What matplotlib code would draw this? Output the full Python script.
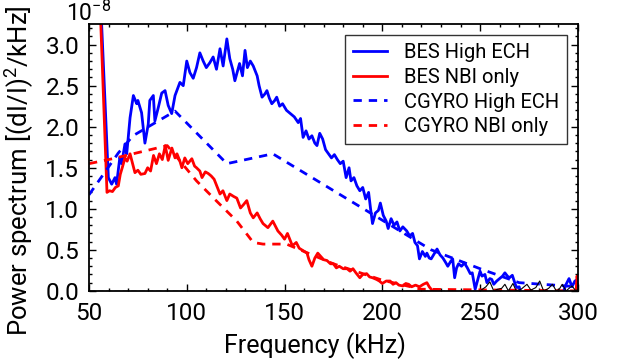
import numpy as np
import matplotlib
matplotlib.use('Agg')
import matplotlib.pyplot as plt
from matplotlib.ticker import MultipleLocator

plt.rcParams['font.family'] = ['Roboto', 'DejaVu Sans']
plt.rcParams['mathtext.fontset'] = 'custom'
plt.rcParams['mathtext.rm'] = 'Roboto'
plt.rcParams['mathtext.default'] = 'regular'

# BES High ECH (units of 1e-8)
bes_ech_f = [56.0, 59.9, 61.6, 63.3, 64.1, 65.8, 66.7, 68.4, 69.3, 71.0, 72.7, 74.4, 75.0, 76.9,
             78.6, 80.3, 81.1, 82.9, 83.7, 85.4, 87.2, 88.9, 90.5, 92.3, 94.0, 96.5, 98.2, 100.0,
             101.6, 103.3, 105.0, 106.7, 108.4, 110.0, 111.8, 113.5, 115.2, 117.0, 118.6, 120.5,
             122.0, 123.5, 124.6, 126.0, 127.0, 128.5, 129.8, 131.0, 132.5, 134.0, 136.0, 137.0,
             138.5, 140.0, 141.0, 142.2, 143.5, 145.0, 146.0, 147.5, 149.0, 151.0, 153.0, 155.0,
             157.0, 158.2, 159.5, 161.0, 162.5, 164.0, 165.5, 166.6, 168.0, 169.5, 171.0, 172.5,
             174.0, 175.5, 177.0, 178.5, 180.0, 181.5, 183.0, 184.0, 185.5, 187.0, 188.5, 190.0,
             191.5, 193.0, 194.0, 195.0, 196.5, 198.0, 199.0, 200.5, 202.0, 203.0, 204.5, 206.0,
             207.5, 209.0, 210.5, 212.5, 214.0, 215.5, 216.7, 218.0, 219.0, 220.5, 222.0, 222.8,
             224.0, 225.0, 226.5, 228.0, 229.5, 231.0, 232.3, 233.5, 235.0, 236.0, 237.0, 238.0,
             239.0, 240.5, 242.0, 243.5, 245.0, 246.0, 247.5, 249.0, 250.0, 251.0, 252.5, 253.5,
             255.0, 256.0, 257.0, 258.5, 260.0, 261.5, 262.7, 264.0, 265.0, 266.5, 268.0, 268.8,
             270.0, 271.0, 292.0, 294.0, 295.5, 297.0, 298.5, 300.0]
bes_ech_v = [3.5, 1.38, 1.30, 1.38, 1.30, 1.63, 1.55, 1.79, 1.67, 2.11, 2.38, 2.28, 2.32, 2.17,
             1.80, 2.03, 2.32, 2.38, 2.07, 2.23, 2.41, 2.44, 2.26, 2.16, 2.38, 2.54, 2.50, 2.80,
             2.66, 2.59, 2.72, 2.90, 2.80, 2.72, 2.78, 2.85, 2.70, 2.95, 2.74, 3.07,
             2.83, 2.70, 2.56, 2.68, 2.77, 2.62, 2.93, 2.72, 2.80, 2.74, 2.62, 2.50,
             2.36, 2.40, 2.44, 2.35, 2.28, 2.32, 2.36, 2.25, 2.28, 2.20, 2.16, 2.12,
             2.05, 2.10, 1.87, 1.95, 1.85, 1.89, 1.80, 1.77, 1.92, 1.85, 1.72, 1.67,
             1.62, 1.66, 1.60, 1.55, 1.58, 1.38, 1.50, 1.34, 1.38, 1.28, 1.22, 1.26,
             1.12, 1.20, 1.00, 0.82, 0.95, 0.98, 1.07, 0.92, 0.85, 0.76, 0.88, 0.80,
             0.84, 0.73, 0.78, 0.73, 0.67, 0.70, 0.59, 0.55, 0.39, 0.48, 0.42, 0.46,
             0.40, 0.39, 0.45, 0.51, 0.44, 0.40, 0.35, 0.30, 0.36, 0.39, 0.16, 0.28,
             0.33, 0.30, 0.34, 0.28, 0.21, 0.22, 0.02, 0.15, 0.24, 0.18, 0.20, 0.10,
             0.15, 0.14, 0.08, 0.12, 0.15, 0.18, 0.22, 0.18, 0.16, 0.19, 0.08, 0.04,
             0.05, -0.05, -0.05, 0.08, 0.15, 0.05, 0.12, 0.14]

# BES NBI only
bes_nbi_f = [55.5, 59.2, 60.5, 62.0, 63.5, 65.0, 66.0, 67.0, 68.4, 69.5, 71.0, 72.3, 73.5, 75.0,
             76.5, 78.6, 80.0, 81.5, 83.0, 84.5, 86.0, 87.5, 89.0, 90.5, 92.4, 94.0, 95.0, 96.5,
             97.5, 99.0, 100.5, 102.6, 104.0, 105.0, 106.7, 107.8, 109.5, 111.0, 112.5, 114.0,
             115.0, 117.0, 118.5, 120.5, 122.0, 124.0, 125.6, 127.5, 129.0, 130.7, 132.5, 134.0,
             136.0, 137.5, 139.0, 141.5, 144.0, 146.6, 148.5, 150.0, 151.5, 154.0, 156.0, 157.5,
             159.5, 161.5, 162.5, 164.0, 165.5, 167.0, 168.5, 170.0, 171.7, 173.5, 175.0, 176.5,
             178.0, 180.0, 182.0, 183.5, 185.0, 186.5, 188.5, 190.0, 192.0, 193.5, 195.0, 197.0,
             198.5, 200.0, 202.0, 204.0, 205.5, 207.0, 208.5, 210.5, 212.0, 213.5, 215.0, 217.0,
             219.0, 221.0, 222.8, 224.0, 225.0, 226.5, 299.0, 299.6, 300.0]
bes_nbi_v = [3.6, 1.20, 1.22, 1.21, 1.26, 1.28, 1.42, 1.50, 1.62, 1.58, 1.67, 1.55, 1.44, 1.47,
             1.42, 1.43, 1.50, 1.46, 1.65, 1.55, 1.67, 1.60, 1.77, 1.59, 1.74, 1.62, 1.67, 1.58,
             1.50, 1.62, 1.55, 1.61, 1.52, 1.50, 1.46, 1.38, 1.45, 1.43, 1.40, 1.36,
             1.30, 1.18, 1.22, 1.10, 1.18, 1.15, 1.13, 1.01, 1.05, 1.10, 0.95, 0.89,
             0.95, 0.88, 0.82, 0.77, 0.85, 0.73, 0.68, 0.63, 0.70, 0.55, 0.59, 0.52,
             0.49, 0.46, 0.38, 0.30, 0.40, 0.46, 0.42, 0.38, 0.37, 0.33, 0.33, 0.28,
             0.30, 0.27, 0.27, 0.24, 0.27, 0.22, 0.16, 0.20, 0.21, 0.17, 0.16, 0.14,
             0.12, 0.09, 0.12, 0.12, 0.08, 0.10, 0.07, 0.06, 0.09, 0.08, 0.05, 0.07,
             0.05, 0.08, 0.10, 0.05, 0.02, -0.05, -0.05, 0.18, 0.10]

# CGYRO High ECH
cg_ech_f = [50, 65, 72.5, 94, 120.5, 144, 225, 250, 270, 300]
cg_ech_v = [1.17, 1.68, 1.89, 2.19, 1.55, 1.67, 0.50, 0.27, 0.10, 0.05]

# CGYRO NBI only
cg_nbi_f = [50, 62, 90, 105, 115, 125.6, 134, 139, 151, 175, 200, 220, 300]
cg_nbi_v = [1.55, 1.61, 1.77, 1.34, 1.10, 0.85, 0.59, 0.57, 0.57, 0.33, 0.13, 0.02, 0.0]

# thin black trace near zero at high frequency
noise_f = [250, 253, 255, 257, 259, 261, 262.7, 264.5, 266.8, 268.5, 271, 274, 276, 278.5,
           280.5, 282.5, 285, 287, 289, 290.5, 292, 294, 297, 299, 300]
noise_v = [0.0, 0.05, 0.11, 0.0, 0.02, 0.03, 0.08, 0.0, 0.09, 0.0, 0.02, 0.08, 0.01, 0.04,
           0.12, 0.0, 0.03, 0.08, 0.0, 0.02, 0.08, 0.0, 0.06, 0.0, 0.02]

fig = plt.figure(figsize=(6.18, 3.6), dpi=100)
ax = fig.add_axes([0.144, 0.192, 0.791, 0.741])

ax.plot(bes_ech_f, bes_ech_v, color='#0000ff', lw=2, label='BES High ECH')
ax.plot(bes_nbi_f, bes_nbi_v, color='#ff0000', lw=2, label='BES NBI only')
ax.plot(cg_ech_f, cg_ech_v, color='#0000ff', lw=2, ls=(0, (3, 2.5)), label='CGYRO High ECH')
ax.plot(cg_nbi_f, cg_nbi_v, color='#ff0000', lw=2, ls=(0, (3, 2.5)), label='CGYRO NBI only')
ax.plot(noise_f, noise_v, color='k', lw=0.8)
ax.axhline(0, color='k', lw=1.0, ls=(0, (4, 2)))

ax.set_xlim(50, 300)
ax.set_ylim(0, 3.25)
ax.xaxis.set_major_locator(MultipleLocator(50))
ax.xaxis.set_minor_locator(MultipleLocator(10))
ax.yaxis.set_major_locator(MultipleLocator(0.5))
ax.yaxis.set_minor_locator(MultipleLocator(0.1))
ax.tick_params(which='both', direction='in', top=True, right=True, labelsize=17.5, width=1)
ax.tick_params(axis='x', pad=8)
ax.tick_params(axis='y', pad=7)
ax.tick_params(which='major', length=5)
ax.tick_params(which='minor', length=2.5)
for s in ax.spines.values():
    s.set_linewidth(1.3)

ax.set_xlabel('Frequency (kHz)', fontsize=18)
ax.set_ylabel(r'Power spectrum [(dI/I)$^2$/kHz]', fontsize=18.5)
ax.xaxis.set_label_coords(0.462, -0.155)
ax.yaxis.set_label_coords(-0.108, 0.45)
ax.annotate(r'$10^{-8}$', xy=(0.0, 1.0), xycoords='axes fraction', xytext=(0, 2),
            textcoords='offset points', ha='center', va='baseline', fontsize=16.5)

leg = ax.legend(loc='upper right', fontsize=14.5, fancybox=False, edgecolor='k',
                handlelength=1.7, handletextpad=0.8, borderaxespad=0.55, labelspacing=0.28)
leg.get_frame().set_linewidth(1.0)

fig.savefig('out.png', dpi=100)
